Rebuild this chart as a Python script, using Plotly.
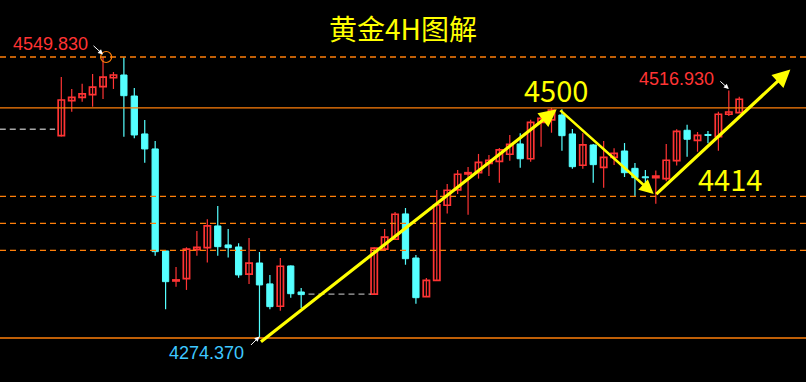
import plotly.graph_objects as go

# ---------------- data ----------------
slots = list(range(1, 25)) + list(range(31, 67))
opens = [4472.7, 4507.0, 4510.3, 4512.9, 4520.7, 4529.5, 4532.2, 4511.6, 4474.4, 4459.7,
         4359.7, 4330.3, 4332.6, 4361.0, 4362.9, 4384.2, 4365.6, 4363.6, 4336.9, 4347.9,
         4327.4, 4305.5, 4345.0, 4319.5,
         4317.3, 4361.4, 4371.2, 4396.0, 4352.8, 4314.9, 4330.9, 4404.5, 4419.5, 4435.2,
         4436.4, 4445.6, 4447.6, 4454.5, 4464.6, 4450.1, 4485.8, 4488.1, 4493.0, 4474.4,
         4443.7, 4463.6, 4441.7, 4451.5, 4457.7, 4440.7, 4432.4, 4431.5, 4430.6, 4448.2,
         4478.0, 4468.2, 4473.9, 4471.7, 4493.7, 4495.3]
highs = [4530.2, 4518.5, 4523.6, 4533.2, 4549.83, 4535.1, 4549.5, 4519.4, 4488.1, 4467.5,
         4360.0, 4344.0, 4363.3, 4379.3, 4390.8, 4403.8, 4381.3, 4367.3, 4372.5, 4358.7,
         4336.2, 4352.8, 4345.5, 4323.5,
         4363.3, 4381.3, 4397.9, 4401.8, 4355.8, 4333.2, 4419.5, 4425.4, 4439.1, 4442.0,
         4454.8, 4453.8, 4460.6, 4473.4, 4475.1, 4488.4, 4493.9, 4500.0, 4498.6, 4479.3,
         4475.1, 4464.5, 4467.5, 4460.3, 4465.5, 4445.9, 4439.1, 4438.6, 4464.6, 4479.0,
         4483.5, 4476.3, 4477.3, 4496.2, 4516.93, 4510.9]
lows = [4472.0, 4496.2, 4506.0, 4501.1, 4508.7, 4518.5, 4471.7, 4470.1, 4446.2, 4355.1,
        4302.6, 4324.7, 4321.5, 4355.1, 4348.3, 4355.1, 4353.2, 4333.5, 4327.4, 4274.37,
        4302.6, 4301.2, 4313.9, 4303.9,
        4317.3, 4361.0, 4370.5, 4346.2, 4308.0, 4314.5, 4330.5, 4396.3, 4415.6, 4395.3,
        4430.6, 4433.2, 4426.6, 4448.2, 4441.3, 4447.2, 4461.9, 4475.6, 4458.0, 4440.3,
        4440.3, 4426.6, 4421.7, 4444.0, 4432.2, 4413.6, 4423.4, 4406.0, 4428.0, 4443.5,
        4452.1, 4457.0, 4465.2, 4458.0, 4492.0, 4495.0]
closes = [4507.7, 4510.3, 4513.6, 4520.4, 4530.2, 4532.2, 4511.9, 4473.4, 4459.7, 4359.0,
          4329.6, 4331.3, 4361.4, 4363.3, 4384.2, 4363.9, 4362.9, 4336.2, 4347.7, 4326.4,
          4305.1, 4344.7, 4317.8, 4316.9,
          4362.4, 4373.2, 4395.7, 4352.1, 4313.9, 4330.9, 4404.8, 4419.2, 4434.9, 4436.4,
          4446.6, 4448.6, 4458.7, 4464.3, 4450.1, 4485.8, 4489.7, 4497.9, 4472.7, 4442.3,
          4463.6, 4444.3, 4451.5, 4455.4, 4436.4, 4431.5, 4431.4, 4433.2, 4448.6, 4477.0,
          4469.2, 4473.1, 4472.9, 4493.7, 4495.9, 4508.4]

title_text = "黄金4H图解"
solid_levels = [4500.0, 4274.37]
dashed_levels = [4549.83, 4413.3, 4386.8, 4360.3]
gap_lines = [(-4.9, 0.4, 4479.0), (24.7, 30.7, 4317.3)]   # (slot from, slot to, price)
price_labels = [("4549.830", 5, 4549.83), ("4274.370", 20, 4274.37), ("4516.930", 65, 4516.93)]
arrows = [((20.0, 4269.5), (48.5, 4498.6), 3.2),
          ((48.7, 4498.8), (57.8, 4415.5), 2.6),
          ((57.9, 4414.1), (70.9, 4537.6), 3.2)]
big_labels = [("4500", 48.45, 4515.5), ("4414", 65.1, 4428.3)]

RED = "#ff3434"
CYAN = "#55ffff"
ORANGE = "#ff7f0a"
YELLOW = "#ffff00"

fig = go.Figure()

# wicks
for up in (True, False):
    xs, ys = [], []
    for s, o, h, l, c in zip(slots, opens, highs, lows, closes):
        if (c >= o) == up:
            xs += [s, s, None]
            ys += [l, h, None]
    fig.add_trace(go.Scatter(x=xs, y=ys, mode="lines",
                             line=dict(color=RED if up else CYAN, width=1.2),
                             hoverinfo="skip", showlegend=False))

# bodies
for up in (True, False):
    bx, bb, bh = [], [], []
    for s, o, c in zip(slots, opens, closes):
        if (c >= o) == up:
            bx.append(s)
            bb.append(min(o, c))
            bh.append(max(abs(c - o), 1.0))
    fig.add_trace(go.Bar(x=bx, y=bh, base=bb, width=0.6,
                         marker=dict(color="#000000" if up else CYAN,
                                     line=dict(color=RED if up else CYAN, width=1.7 if up else 1)),
                         hoverinfo="skip", showlegend=False))

X0, X1 = -4.877, 72.40
Y0, Y1 = 4231.24, 4605.71

shapes = []
for lv in solid_levels:
    shapes.append(dict(type="line", xref="paper", x0=0, x1=1, yref="y", y0=lv, y1=lv,
                       line=dict(color=ORANGE, width=1.3)))
for lv in dashed_levels:
    shapes.append(dict(type="line", xref="paper", x0=0, x1=1, yref="y", y0=lv, y1=lv,
                       line=dict(color=ORANGE, width=1.3, dash="6px,4px")))
for a, b, lv in gap_lines:
    shapes.append(dict(type="line", xref="x", x0=a, x1=b, yref="y", y0=lv, y1=lv,
                       line=dict(color="#a8a8a8", width=1.3, dash="6px,4px")))
# circle around the top high
shapes.append(dict(type="circle", xref="x", yref="y", xsizemode="pixel", ysizemode="pixel",
                   xanchor=5.3, yanchor=4549.83, x0=-5.5, x1=5.5, y0=-5.5, y1=5.5,
                   line=dict(color=ORANGE, width=1.2)))

annotations = [dict(text=title_text, xref="paper", yref="paper", x=0.5, y=1 - 28 / 382,
                    xanchor="center", yanchor="middle", showarrow=False,
                    font=dict(family="Noto Sans CJK SC", size=28, color=YELLOW))]

for (tx, ty), (hx, hy), w in arrows:
    annotations.append(dict(x=hx, y=hy, ax=tx, ay=ty, xref="x", yref="y", axref="x", ayref="y",
                            text="", showarrow=True, arrowhead=2, arrowsize=1.1, arrowwidth=w,
                            arrowcolor=YELLOW, standoff=0, startstandoff=0))

for txt, x, y in big_labels:
    annotations.append(dict(text=txt, x=x, y=y, xref="x", yref="y", showarrow=False,
                            xanchor="center", yanchor="middle", yshift=3,
                            font=dict(family="Noto Sans CJK SC", size=29, color=YELLOW)))

# price labels with small pointer arrows
lab_cfg = {
    "4549.830": dict(color=RED, tx=50.5, ty=44, ax=-11, ay=-10, tip=(5, 4549.83 + 2.5)),
    "4274.370": dict(color="#3fc8ff", tx=206, ty=353, ax=-10, ay=10, tip=(20, 4274.37 + 1.5)),
    "4516.930": dict(color=RED, tx=676.5, ty=79, ax=-10, ay=-9, tip=(65, 4516.93 + 1.5)),
}
for txt, s, pv in price_labels:
    c = lab_cfg[txt]
    annotations.append(dict(text=txt, xref="paper", yref="paper", x=c["tx"] / 806, y=1 - c["ty"] / 382,
                            xanchor="center", yanchor="middle", showarrow=False,
                            font=dict(family="Liberation Sans, Arial", size=18,
                                      color=c["color"])))
    annotations.append(dict(x=c["tip"][0], y=c["tip"][1], xref="x", yref="y", ax=c["ax"], ay=c["ay"],
                            text="", showarrow=True, arrowhead=2, arrowsize=1, arrowwidth=1,
                            arrowcolor="#ffffff", standoff=0))

fig.update_layout(
    width=806, height=382, margin=dict(l=0, r=0, t=0, b=0),
    paper_bgcolor="#000000", plot_bgcolor="#000000",
    barmode="overlay", showlegend=False, hovermode=False,
    xaxis=dict(range=[X0, X1], visible=False, fixedrange=True),
    yaxis=dict(range=[Y0, Y1], visible=False, fixedrange=True),
    shapes=shapes, annotations=annotations,
)

fig.write_html("out.html", config={"displayModeBar": False})
